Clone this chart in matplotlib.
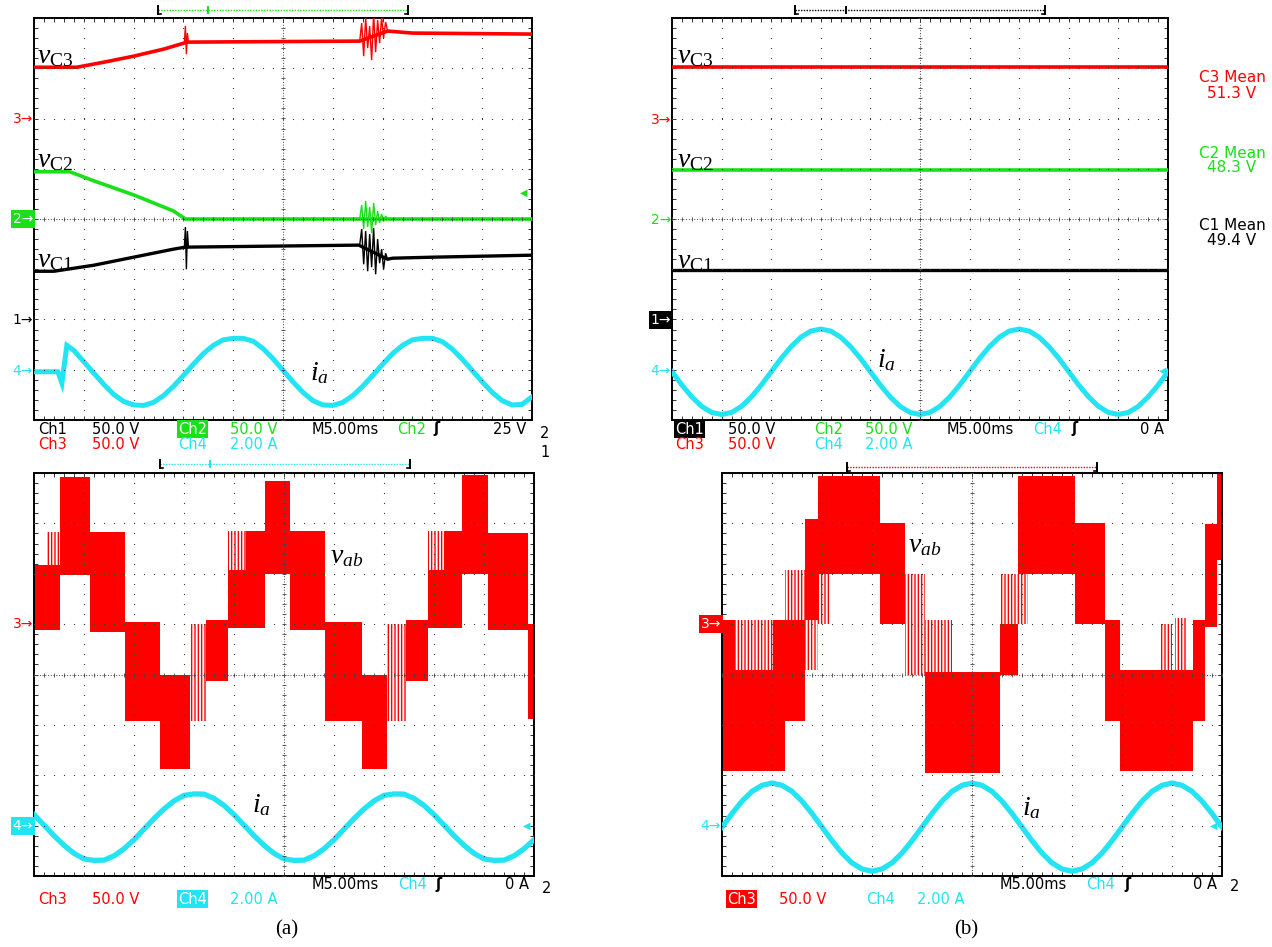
import numpy as np
import matplotlib
matplotlib.use('Agg')
import matplotlib.pyplot as plt
from matplotlib.lines import Line2D

plt.rcParams['mathtext.fontset'] = 'custom'
plt.rcParams['mathtext.rm'] = 'Liberation Serif'
plt.rcParams['mathtext.it'] = 'Liberation Serif:italic'
plt.rcParams['hatch.linewidth'] = 1.0

RED = '#ff0000'
GRN = '#19e019'
CYN = '#22e4f2'
BLK = '#000000'

# ---------------- data (time in ms, 5 ms/div) ----------------
# (a) top: capacitor voltages (V) and phase current (A)
a_c3_t = [0, 4.3, 7, 10, 13, 15.4, 32.7, 35.5, 38, 50]
a_c3_v = [51, 51, 56, 62, 69, 76, 77, 87, 85, 84]
a_c2_t = [0, 3.6, 6, 8, 10, 12, 14, 15.2, 50]
a_c2_v = [47, 47, 38, 31, 24, 16, 8, 0, 0]
a_c1_t = [0, 2, 4, 6, 8, 10, 12, 14, 15.2, 32.6, 35.5, 36, 40, 45, 50]
a_c1_v = [48, 48, 51, 54, 58, 62, 66, 70, 72, 74, 60, 61, 62, 63, 64]

burst_t = [32.7, 32.9, 33.1, 33.3, 33.5, 33.7, 33.9, 34.1, 34.3, 34.5, 34.7, 34.9, 35.1, 35.3, 35.5]
a_c3_burst = [77, 95, 62, 100, 70, 92, 58, 104, 66, 98, 75, 101, 80, 96, 87]
a_c1_burst = [74, 90, 55, 88, 48, 85, 52, 91, 45, 80, 56, 70, 50, 66, 60]
a_c2_burst = [0, 14, -10, 18, -8, 12, -14, 16, -6, 8, -4, 5, -2, 3, 0]
spike_t = [15.1, 15.2, 15.3, 15.4, 15.5]
a_c3_spike = [76, 92, 64, 85, 76]
a_c1_spike = [72, 92, 50, 88, 73]

a_ia_t = [0, 2.4, 2.8, 3.3, 4, 5, 6, 7, 8, 9, 10, 11, 12, 13, 14, 15, 16, 17, 18, 19,
          20, 21, 22, 23, 24, 25, 26, 27, 28, 29, 30, 31, 32, 33, 34, 35, 36, 37, 38, 39,
          40, 41, 42, 43, 44, 45, 46, 47, 48, 49, 50]
a_ia = [0, 0, -0.45, 1.05, 0.85, 0.40, -0.05, -0.50, -0.90, -1.18, -1.32, -1.34, -1.22, -0.95,
        -0.58, -0.15, 0.30, 0.72, 1.05, 1.27, 1.33, 1.33, 1.22, 0.92, 0.52, 0.06, -0.40, -0.82,
        -1.15, -1.32, -1.34, -1.22, -0.95, -0.58, -0.15, 0.30, 0.72, 1.05, 1.27, 1.33, 1.33,
        1.20, 0.90, 0.50, 0.05, -0.40, -0.82, -1.15, -1.32, -1.30, -1.0]

# (b) top: balanced capacitor voltages
b_c_t = [0, 50]
b_c3 = [51.3, 51.3]
b_c2 = [48.3, 48.3]
b_c1 = [49.4, 49.4]
t_1ms = list(range(51))
b_ia = [0, -0.53, -1.0, -1.38, -1.62, -1.7, -1.62, -1.38, -1.0, -0.53,
        0, 0.53, 1.0, 1.38, 1.62, 1.7, 1.62, 1.38, 1.0, 0.53,
        0, -0.53, -1.0, -1.38, -1.62, -1.7, -1.62, -1.38, -1.0, -0.53,
        0, 0.53, 1.0, 1.38, 1.62, 1.7, 1.62, 1.38, 1.0, 0.53,
        0, -0.53, -1.0, -1.38, -1.62, -1.7, -1.62, -1.38, -1.0, -0.53, 0]

# (a) bottom: line voltage envelope (t0, t1, low V, high V) and current
a_vab_solid = [(0, 2.6, -6, 59), (2.6, 5.6, 49, 146), (5.6, 9.1, -8, 91), (9.1, 12.6, -96, 2),
               (12.6, 15.6, -144, -50), (17.2, 19.4, -56, 4), (19.4, 23.1, -4, 54),
               (21.2, 23.1, 54, 92), (23.1, 25.6, 50, 142), (25.6, 29.1, -6, 92),
               (29.1, 32.8, -96, 2), (32.8, 35.3, -144, -50), (37.2, 39.4, -56, 4),
               (39.4, 42.8, -4, 54), (41.0, 42.8, 54, 92), (42.8, 45.4, 50, 148),
               (45.4, 49.4, -6, 90), (49.4, 50, -94, 0)]
a_vab_stripe = [(1.2, 2.6, 59, 91), (15.6, 17.2, -96, 0), (19.4, 21.2, 54, 92),
                (35.3, 37.2, -96, 0), (39.4, 41.0, 54, 92)]
a_ib = [0.50, 0.08, -0.34, -0.72, -1.04, -1.26, -1.32, -1.31, -1.14, -0.86,
        -0.50, -0.08, 0.34, 0.72, 1.04, 1.26, 1.32, 1.31, 1.14, 0.86,
        0.50, 0.08, -0.34, -0.72, -1.04, -1.26, -1.32, -1.31, -1.14, -0.86,
        -0.50, -0.08, 0.34, 0.72, 1.04, 1.26, 1.32, 1.31, 1.14, 0.86,
        0.50, 0.08, -0.34, -0.72, -1.04, -1.26, -1.32, -1.31, -1.14, -0.86, -0.50]

# (b) bottom
b_vab_solid = [(0, 1.3, -146, 4), (1.3, 5.1, -146, -46), (5.1, 6.3, -146, 4), (6.3, 8.3, -96, 4),
               (8.3, 9.6, 4, 104), (9.6, 15.8, 50, 147), (15.8, 18.3, 0, 100),
               (20.3, 27.8, -148, -48), (27.8, 29.6, -50, 0), (29.6, 35.3, 50, 147),
               (35.3, 38.3, 0, 100), (38.3, 39.8, -96, 4), (39.8, 47.1, -146, -46),
               (47.1, 48.3, -96, 4), (48.3, 49.5, -3, 99), (49.5, 50, 64, 150)]
b_vab_stripe = [(1.3, 5.1, -46, 4), (6.3, 8.3, 4, 54), (8.3, 9.6, -46, 4), (9.6, 10.8, 0, 50),
                (18.3, 20.3, -50, 50), (20.3, 23.0, -48, 4), (27.8, 29.6, 0, 50),
                (29.6, 30.6, 0, 50), (43.8, 45.0, -46, 0), (45.3, 46.5, -46, 6)]
b_ib = [0, 0.54, 1.03, 1.42, 1.66, 1.75, 1.66, 1.42, 1.03, 0.54,
        0, -0.54, -1.03, -1.42, -1.66, -1.75, -1.66, -1.42, -1.03, -0.54,
        0, 0.54, 1.03, 1.42, 1.66, 1.75, 1.66, 1.42, 1.03, 0.54,
        0, -0.54, -1.03, -1.42, -1.66, -1.75, -1.66, -1.42, -1.03, -0.54,
        0, 0.54, 1.03, 1.42, 1.66, 1.75, 1.66, 1.42, 1.03, 0.54, 0]

# ---------------- layout helpers ----------------
W, H = 1272, 947
fig = plt.figure(figsize=(W / 100, H / 100), dpi=100)
fig.patch.set_facecolor('white')


def fx(x):
    return x / W


def fy(y):
    return 1 - y / H


def scope(x0, y0, x1, y1):
    ax = fig.add_axes([fx(x0), fy(y1), (x1 - x0) / W, (y1 - y0) / H])
    ax.set_xlim(0, 50)
    ax.set_ylim(-4, 4)
    ax.set_xticks(np.arange(0, 51, 5))
    ax.set_xticks(np.arange(0, 51, 1), minor=True)
    ax.set_yticks(np.arange(-4, 5, 1))
    ax.set_yticks(np.arange(-4, 4.01, 0.2), minor=True)
    ax.tick_params(which='both', direction='in', length=3, width=0.7, top=True, right=True,
                   labelbottom=False, labelleft=False, color='#333333')
    for s in ax.spines.values():
        s.set_linewidth(1.4)
    fine_x = np.arange(0, 50.01, 1)
    fine_y = np.arange(-4, 4.01, 0.2)
    for xv in [5, 10, 15, 20, 30, 35, 40, 45]:
        ax.plot(np.full_like(fine_y, xv), fine_y, ls='none', marker='s', ms=0.8, mew=0,
                color='#3a3a3a', zorder=4)
    for yv in [-3, -2, -1, 1, 2, 3]:
        ax.plot(fine_x, np.full_like(fine_x, yv), ls='none', marker='s', ms=0.8, mew=0,
                color='#3a3a3a', zorder=4)
    ax.plot([0, 50], [0, 0], color='#444444', lw=0.7, ls=(0, (1, 1.8)), zorder=4)
    ax.plot([25, 25], [-4, 4], color='#444444', lw=0.7, ls=(0, (1, 1.8)), zorder=4)
    ax.plot(fine_x, np.zeros_like(fine_x), ls='none', marker='|', ms=3.5, mew=0.6,
            color='#444444', zorder=4)
    ax.plot(np.full_like(fine_y, 25), fine_y, ls='none', marker='_', ms=3.5, mew=0.6,
            color='#444444', zorder=4)
    return ax


def tr(ax, t, v, off, scale, color, lw=2.2, z=3):
    ax.plot(t, off + np.asarray(v, float) / scale, color=color, lw=lw, zorder=z,
            solid_joinstyle='miter')


def blocks(ax, solid, stripe, off, scale):
    for t0, t1, lo, hi in solid:
        ax.fill_between([t0, t1], off + lo / scale, off + hi / scale, color=RED, lw=0, zorder=2)
    for t0, t1, lo, hi in stripe:
        ax.fill_between([t0, t1], off + lo / scale, off + hi / scale, facecolor='none',
                        edgecolor=RED, hatch='|||||', lw=0, zorder=2)


def txt(x, y, s, **kw):
    kw.setdefault('fontsize', 10.5)
    kw.setdefault('family', 'DejaVu Sans')
    return fig.text(fx(x), fy(y), s, **kw)


def label(x, y, s, size=20):
    fig.text(fx(x), fy(y), s, fontsize=size, va='baseline', ha='left', color=BLK)


def marker(x, y, s, color, box=None):
    if box is None:
        txt(x, y, s, color=color, ha='right', va='center', fontsize=10)
    else:
        txt(x, y, s, color='white', ha='right', va='center', fontsize=10,
            bbox=dict(facecolor=box, edgecolor='none', pad=1.2))


def bar(x0, x1, y, color, tick=None):
    fig.add_artist(Line2D([fx(x0), fx(x1)], [fy(y), fy(y)], color=color, lw=1.0,
                          ls=(0, (1, 1))))
    for xb, d in [(x0, 3), (x1, -3)]:
        fig.add_artist(Line2D([fx(xb), fx(xb)], [fy(y - 4), fy(y + 4)], color=BLK, lw=1.4))
        fig.add_artist(Line2D([fx(xb), fx(xb + d)], [fy(y + 4), fy(y + 4)], color=BLK, lw=1.2))
    if tick is not None:
        fig.add_artist(Line2D([fx(tick), fx(tick)], [fy(y - 3), fy(y + 3)], color=color, lw=1.4))


# ---------------- (a) top ----------------
ax = scope(34, 18, 532, 420)
tr(ax, a_c3_t, a_c3_v, 2, 50, RED, lw=2.6)
tr(ax, burst_t, a_c3_burst, 2, 50, RED, lw=1.0)
tr(ax, spike_t, a_c3_spike, 2, 50, RED, lw=1.0)
tr(ax, a_c2_t, a_c2_v, 0, 50, GRN, lw=2.6)
tr(ax, burst_t, a_c2_burst, 0, 50, GRN, lw=1.0)
tr(ax, a_c1_t, a_c1_v, -2, 50, BLK, lw=2.4)
tr(ax, burst_t, a_c1_burst, -2, 50, BLK, lw=1.0)
tr(ax, spike_t, a_c1_spike, -2, 50, BLK, lw=1.0)
tr(ax, a_ia_t, a_ia, -3.04, 2, CYN, lw=3.6)

# ---------------- (b) top ----------------
ax = scope(672, 18, 1168, 420)
tr(ax, b_c_t, b_c3, 2, 50, RED, lw=2.6)
tr(ax, b_c_t, b_c2, 0, 50, GRN, lw=2.6)
tr(ax, b_c_t, b_c1, -2, 50, BLK, lw=2.4)
tr(ax, t_1ms, b_ia, -3.04, 2, CYN, lw=3.6)

# ---------------- (a) bottom ----------------
ax = scope(34, 473, 534, 876)
blocks(ax, a_vab_solid, a_vab_stripe, 1.0, 50)
tr(ax, t_1ms, a_ib, -3.03, 2, CYN, lw=3.8)

# ---------------- (b) bottom ----------------
ax = scope(722, 473, 1222, 876)
blocks(ax, b_vab_solid, b_vab_stripe, 1.0, 50)
tr(ax, t_1ms, b_ib, -3.03, 2, CYN, lw=3.8)

# ---------------- trace labels ----------------
label(37, 63, r'$v_{\mathrm{C3}}$')
label(37, 167, r'$v_{\mathrm{C2}}$')
label(37, 267, r'$v_{\mathrm{C1}}$')
label(310, 380, r'$i_a$')
label(677, 63, r'$v_{\mathrm{C3}}$')
label(677, 167, r'$v_{\mathrm{C2}}$')
label(677, 268, r'$v_{\mathrm{C1}}$')
label(877, 367, r'$i_a$')
label(330, 563, r'$v_{ab}$')
label(252, 812, r'$i_a$')
label(908, 552, r'$v_{ab}$')
label(1022, 815, r'$i_a$')

# ---------------- channel reference markers ----------------
marker(33, 119, '3→', RED)
marker(33, 219, '2→', GRN, box=GRN)
marker(33, 320, '1→', BLK)
marker(33, 371, '4→', CYN)
marker(671, 120, '3→', RED)
marker(671, 220, '2→', GRN)
marker(671, 320, '1→', BLK, box=BLK)
marker(671, 371, '4→', CYN)
marker(33, 624, '3→', RED)
marker(33, 826, '4→', CYN, box=CYN)
marker(721, 624, '3→', RED, box=RED)
marker(721, 826, '4→', CYN)

# trigger level markers
txt(524, 193, '◀', color=GRN, ha='center', va='center', fontsize=7)
txt(1163, 371, '◀', color=CYN, ha='center', va='center', fontsize=7)
txt(527, 826, '◀', color=CYN, ha='center', va='center', fontsize=7)
txt(1214, 826, '◀', color=CYN, ha='center', va='center', fontsize=7)

# ---------------- readouts ----------------
r1, r2 = 429, 444
txt(38, r1, 'Ch1', color=BLK, va='center')
txt(92, r1, '50.0 V', color=BLK, va='center')
txt(178, r1, 'Ch2', color='white', va='center', bbox=dict(facecolor=GRN, edgecolor='none', pad=0.8))
txt(230, r1, '50.0 V', color=GRN, va='center')
txt(312, r1, 'M5.00ms', color=BLK, va='center')
txt(397, r1, 'Ch2', color=GRN, va='center')
txt(433, r1, 'ʃ', color=BLK, va='center', fontweight='bold')
txt(493, r1, '25 V', color=BLK, va='center')
txt(38, r2, 'Ch3', color=RED, va='center')
txt(92, r2, '50.0 V', color=RED, va='center')
txt(178, r2, 'Ch4', color=CYN, va='center')
txt(230, r2, '2.00 A', color=CYN, va='center')
txt(540, 433, '2', color=BLK, va='center')
txt(540, 452, '1', color=BLK, va='center')

txt(675, r1, 'Ch1', color='white', va='center', bbox=dict(facecolor=BLK, edgecolor='none', pad=0.8))
txt(728, r1, '50.0 V', color=BLK, va='center')
txt(814, r1, 'Ch2', color=GRN, va='center')
txt(865, r1, '50.0 V', color=GRN, va='center')
txt(947, r1, 'M5.00ms', color=BLK, va='center')
txt(1033, r1, 'Ch4', color=CYN, va='center')
txt(1071, r1, 'ʃ', color=BLK, va='center', fontweight='bold')
txt(1140, r1, '0 A', color=BLK, va='center')
txt(675, r2, 'Ch3', color=RED, va='center')
txt(728, r2, '50.0 V', color=RED, va='center')
txt(814, r2, 'Ch4', color=CYN, va='center')
txt(865, r2, '2.00 A', color=CYN, va='center')

txt(1232, 78, 'C3 Mean', color=RED, ha='center', va='center', fontsize=11)
txt(1232, 93, '51.3 V', color=RED, ha='center', va='center', fontsize=11)
txt(1232, 153, 'C2 Mean', color=GRN, ha='center', va='center', fontsize=11)
txt(1232, 167, '48.3 V', color=GRN, ha='center', va='center', fontsize=11)
txt(1232, 225, 'C1 Mean', color=BLK, ha='center', va='center', fontsize=11)
txt(1232, 240, '49.4 V', color=BLK, ha='center', va='center', fontsize=11)

q1, q2 = 884, 899
txt(312, q1, 'M5.00ms', color=BLK, va='center')
txt(398, q1, 'Ch4', color=CYN, va='center')
txt(435, q1, 'ʃ', color=BLK, va='center', fontweight='bold')
txt(505, q1, '0 A', color=BLK, va='center')
txt(38, q2, 'Ch3', color=RED, va='center')
txt(92, q2, '50.0 V', color=RED, va='center')
txt(178, q2, 'Ch4', color='white', va='center', bbox=dict(facecolor=CYN, edgecolor='none', pad=0.8))
txt(230, q2, '2.00 A', color=CYN, va='center')
txt(542, 888, '2', color=BLK, va='center')

txt(1000, q1, 'M5.00ms', color=BLK, va='center')
txt(1086, q1, 'Ch4', color=CYN, va='center')
txt(1124, q1, 'ʃ', color=BLK, va='center', fontweight='bold')
txt(1193, q1, '0 A', color=BLK, va='center')
txt(727, q2, 'Ch3', color='white', va='center', bbox=dict(facecolor=RED, edgecolor='none', pad=0.8))
txt(779, q2, '50.0 V', color=RED, va='center')
txt(866, q2, 'Ch4', color=CYN, va='center')
txt(917, q2, '2.00 A', color=CYN, va='center')
txt(1230, 886, '2', color=BLK, va='center')

# record position bars
bar(158, 408, 10, GRN, tick=208)
bar(795, 1045, 10, BLK, tick=846)
bar(160, 410, 464, CYN, tick=210)
bar(847, 1097, 467, RED)

# captions
fig.text(fx(287), fy(930), '(a)', fontsize=15, family='Liberation Serif', ha='center', va='center')
fig.text(fx(966), fy(930), '(b)', fontsize=15, family='Liberation Serif', ha='center', va='center')

fig.savefig('out.png', dpi=100)
